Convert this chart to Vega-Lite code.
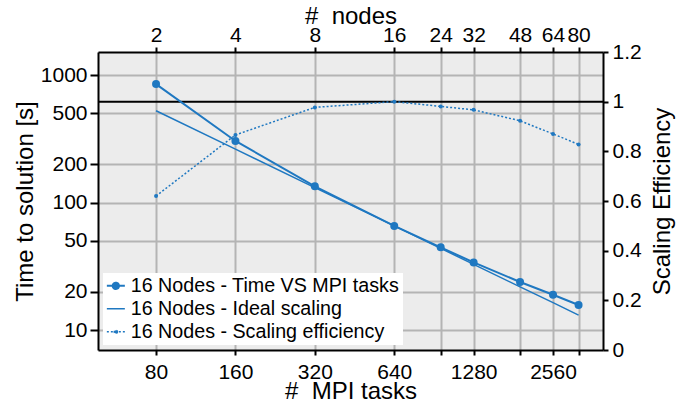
{
  "$schema": "https://vega.github.io/schema/vega-lite/v6.json",
  "width": 505,
  "height": 298,
  "autosize": "none",
  "padding": {"left": 98, "top": 52, "right": 86, "bottom": 53},
  "background": "white",
  "data": {"values": [
    {"tasks": 80, "time": 849, "ideal": 524, "eff": 0.62},
    {"tasks": 160, "time": 304, "ideal": 262, "eff": 0.866},
    {"tasks": 320, "time": 134, "ideal": 131, "eff": 0.977},
    {"tasks": 640, "time": 65.5, "ideal": 65.5, "eff": 1.0},
    {"tasks": 960, "time": 44.5, "ideal": 43.7, "eff": 0.981},
    {"tasks": 1280, "time": 33.9, "ideal": 32.75, "eff": 0.967},
    {"tasks": 1920, "time": 23.8, "ideal": 21.8, "eff": 0.923},
    {"tasks": 2560, "time": 18.9, "ideal": 16.4, "eff": 0.87},
    {"tasks": 3200, "time": 15.7, "ideal": 13.1, "eff": 0.828}
  ]},
  "resolve": {"scale": {"y": "independent"}, "axis": {"x": "independent", "y": "independent"}},
  "layer": [
    {
      "data": {"values": [{}]},
      "mark": {"type": "rule", "color": "black", "strokeWidth": 2},
      "encoding": {
        "y": {"datum": 1, "type": "quantitative", "scale": {"domain": [0, 1.2], "nice": false}, "axis": null}
      }
    },
    {
      "mark": {"type": "line", "strokeWidth": 2, "point": {"filled": true, "size": 64}},
      "encoding": {
        "x": {"field": "tasks", "type": "quantitative",
          "scale": {"type": "log", "domain": [48.2, 3960], "nice": false},
          "axis": {"orient": "bottom", "values": [80, 160, 320, 640, 960, 1280, 1920, 2560, 3200],
            "labelExpr": "indexof([80,160,320,640,1280,2560], datum.value) >= 0 ? format(datum.value, 'd') : ''",
            "grid": false, "tickSize": 5, "labelPadding": 6, "title": "#\u00a0\u00a0MPI tasks", "titlePadding": -3}},
        "y": {"field": "time", "type": "quantitative",
          "scale": {"type": "log", "domain": [6.97, 1515], "nice": false},
          "axis": {"orient": "left", "values": [10, 20, 50, 100, 200, 500, 1000], "format": "d",
            "grid": true, "tickSize": 8, "labelPadding": 3, "title": "Time to solution [s]", "titlePadding": 3}},
        "color": {"datum": "16 Nodes - Time VS MPI tasks", "type": "nominal",
          "scale": {"domain": ["16 Nodes - Time VS MPI tasks", "16 Nodes - Ideal scaling", "16 Nodes - Scaling efficiency"],
            "range": ["#1f78c1", "#1f78c1", "#1f78c1"]},
          "legend": {
            "orient": "none", "legendX": 5, "legendY": 221, "title": null,
            "fillColor": "white", "padding": 3, "rowPadding": 2, "labelOffset": 5,
            "labelFont": "Liberation Sans", "labelFontSize": 19.7, "labelColor": "black",
            "symbolSize": 324, "labelLimit": 400,
            "encode": {"symbols": {"update": {
              "shape": {"signal": "datum.value === '16 Nodes - Time VS MPI tasks' ? 'M-1,0H1M0.35,0A0.35,0.35,0,1,1,-0.35,0A0.35,0.35,0,1,1,0.35,0Z' : datum.value === '16 Nodes - Ideal scaling' ? 'M-1,0H1' : 'M-1,0H1M0.18,0A0.18,0.18,0,1,1,-0.18,0A0.18,0.18,0,1,1,0.18,0Z'"},
              "strokeDash": {"signal": "datum.value === '16 Nodes - Scaling efficiency' ? [2,2] : [1,0]"},
              "strokeWidth": {"signal": "datum.value === '16 Nodes - Time VS MPI tasks' ? 2 : 1.5"},
              "fill": {"value": "#1f78c1"},
              "stroke": {"value": "#1f78c1"},
              "opacity": {"value": 1}
            }}}
          }}
      }
    },
    {
      "mark": {"type": "line", "strokeWidth": 1.5},
      "encoding": {
        "x": {"field": "tasks", "type": "quantitative",
          "scale": {"type": "log", "domain": [48.2, 3960], "nice": false},
          "axis": {"orient": "top", "values": [80, 160, 320, 640, 960, 1280, 1920, 2560, 3200],
            "labelExpr": "format(datum.value / 40, 'd')",
            "grid": true, "tickSize": 5, "labelPadding": 2, "title": "#\u00a0\u00a0nodes", "titlePadding": -4}},
        "y": {"field": "ideal", "type": "quantitative",
          "scale": {"type": "log", "domain": [6.97, 1515], "nice": false}, "axis": null},
        "color": {"datum": "16 Nodes - Ideal scaling", "type": "nominal"}
      }
    },
    {
      "mark": {"type": "line", "strokeWidth": 1.5, "strokeDash": [2, 2], "point": {"filled": true, "size": 16}},
      "encoding": {
        "x": {"field": "tasks", "type": "quantitative",
          "scale": {"type": "log", "domain": [48.2, 3960], "nice": false}, "axis": null},
        "y": {"field": "eff", "type": "quantitative",
          "scale": {"domain": [0, 1.2], "nice": false},
          "axis": {"orient": "right", "values": [0, 0.2, 0.4, 0.6, 0.8, 1, 1.2], "format": "~g",
            "grid": false, "tickSize": 5, "labelPadding": 4, "title": "Scaling Efficiency",
            "titleAngle": 270, "titleBaseline": "top", "titlePadding": 9}},
        "color": {"datum": "16 Nodes - Scaling efficiency", "type": "nominal"}
      }
    }
  ],
  "config": {
    "font": "Liberation Sans",
    "view": {"fill": "#ececec", "stroke": null},
    "axis": {
      "domainColor": "black", "domainWidth": 2, "tickColor": "black", "tickWidth": 2,
      "gridColor": "#b4b4b4", "gridWidth": 2, "gridOpacity": 1,
      "labelFont": "Liberation Sans", "labelFontSize": 21, "labelColor": "black",
      "titleFont": "Liberation Sans", "titleFontSize": 24, "titleFontWeight": "normal", "titleColor": "black",
      "labelOverlap": false, "labelFlush": false
    }
  }
}
